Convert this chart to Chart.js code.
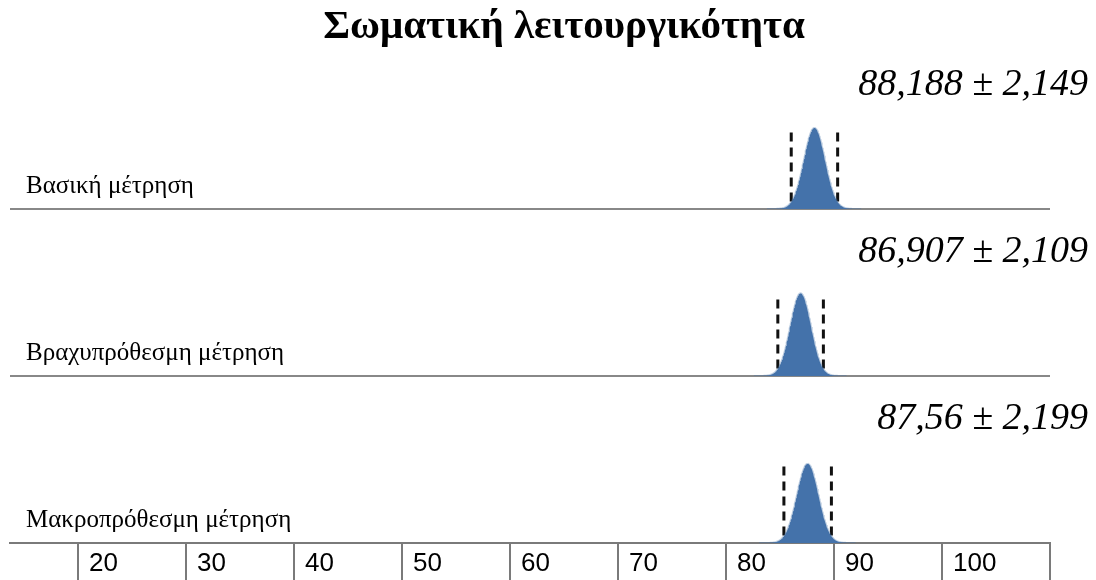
<!DOCTYPE html>
<html>
<head>
<meta charset="utf-8">
<script src="https://cdn.jsdelivr.net/npm/chart.js@4/dist/chart.umd.min.js"></script>
<style>
  html, body { margin: 0; padding: 0; background: #fff; }
  #wrap { width: 1096px; height: 580px; }
</style>
</head>
<body>
<div id="wrap"><canvas id="chart" width="1096" height="580"></canvas></div>
<script>
const title = 'Σωματική λειτουργικότητα';
const panelNames = ['Βασική μέτρηση', 'Βραχυπρόθεσμη μέτρηση', 'Μακροπρόθεσμη μέτρηση'];
const means = [88.188, 86.907, 87.56];
const sds = [2.149, 2.109, 2.199];
const tickValues = [20, 30, 40, 50, 60, 70, 80, 90, 100, 110];
const tickLabels = ['20', '30', '40', '50', '60', '70', '80', '90', '100', ''];

const xMin = 13.7, xMax = 110;
const yMax = 0.85;        // density scale of each panel
const dashTop = 0.39;     // height of the dashed sd lines
const curveWidth = 0.45;  // curve spread relative to sd
const panelIds = ['yA', 'yB', 'yC'];

const blue = 'rgb(68,114,170)';
const grey = '#888';
const serif = '"Liberation Serif", "Times New Roman", serif';

// density curve for one panel
function curve(m, s) {
  const sig = s * curveWidth;
  const pts = [];
  for (let x = m - 4.5 * sig; x <= m + 4.5 * sig; x += 0.04) {
    pts.push({ x: x, y: Math.exp(-0.5 * ((x - m) / sig) ** 2) / (sig * Math.sqrt(2 * Math.PI)) });
  }
  return pts;
}

const datasets = [];
means.forEach((m, i) => {
  datasets.push({
    data: curve(m, sds[i]),
    yAxisID: panelIds[i],
    borderColor: 'rgba(68,114,170,0.35)',
    borderWidth: 2,
    backgroundColor: blue,
    fill: 'origin',
    pointRadius: 0
  });
  [m - sds[i], m + sds[i]].forEach(v => {
    datasets.push({
      data: [{ x: v, y: dashTop }, { x: v, y: 0 }],
      yAxisID: panelIds[i],
      borderColor: '#111',
      borderWidth: 3,
      borderDash: [9, 6],
      pointRadius: 0,
      fill: false
    });
  });
});

const fmt = v => v.toString().replace('.', ',');

// title, panel names and mean ± sd texts
const panelText = {
  id: 'panelText',
  afterDatasetsDraw(chart) {
    const { ctx, chartArea } = chart;
    ctx.save();
    ctx.fillStyle = '#000';
    ctx.textBaseline = 'alphabetic';
    ctx.textAlign = 'center';
    ctx.font = 'bold 41px ' + serif;
    ctx.fillText(title, 564, 38);
    panelIds.forEach((id, i) => {
      const y0 = chart.scales[id].getPixelForValue(0);
      ctx.font = '25px ' + serif;
      ctx.textAlign = 'left';
      ctx.fillText(panelNames[i], chartArea.left + 16, y0 - 16);
      ctx.font = 'italic 38px ' + serif;
      ctx.textAlign = 'right';
      ctx.fillText(fmt(means[i]) + ' ± ' + fmt(sds[i]), chart.width - 8, y0 - 114);
    });
    ctx.restore();
  }
};

const yScale = (w) => ({
  type: 'linear',
  stack: 'panels',
  stackWeight: 1,
  weight: w,
  position: 'left',
  min: 0,
  max: yMax,
  afterBuildTicks: axis => { axis.ticks = [{ value: 0 }]; },
  ticks: { display: false },
  border: { display: false },
  grid: { color: grey, lineWidth: 2, drawTicks: false }
});

new Chart(document.getElementById('chart'), {
  type: 'line',
  data: { datasets: datasets },
  options: {
    responsive: false,
    animation: false,
    layout: { padding: { left: 10, right: 46, top: 42, bottom: 0 } },
    plugins: {
      legend: { display: false },
      tooltip: { enabled: false },
      title: { display: false }
    },
    scales: {
      x: {
        type: 'linear',
        min: xMin,
        max: xMax,
        afterBuildTicks: axis => { axis.ticks = tickValues.map(v => ({ value: v })); },
        ticks: {
          autoSkip: false,
          maxRotation: 0,
          align: 'start',
          crossAlign: 'center',
          labelOffset: 11,
          padding: -19.5,
          color: '#000',
          font: { family: '"Liberation Sans", Arial, sans-serif', size: 26, lineHeight: 36 / 26 },
          callback: (v, i) => tickLabels[i]
        },
        grid: { drawOnChartArea: false, drawTicks: true, tickLength: 40, color: '#7a7a7a', lineWidth: 2 },
        border: { color: '#7a7a7a', width: 2 }
      },
      yC: yScale(1),
      yB: yScale(2),
      yA: yScale(3)
    }
  },
  plugins: [panelText]
});
</script>
</body>
</html>
